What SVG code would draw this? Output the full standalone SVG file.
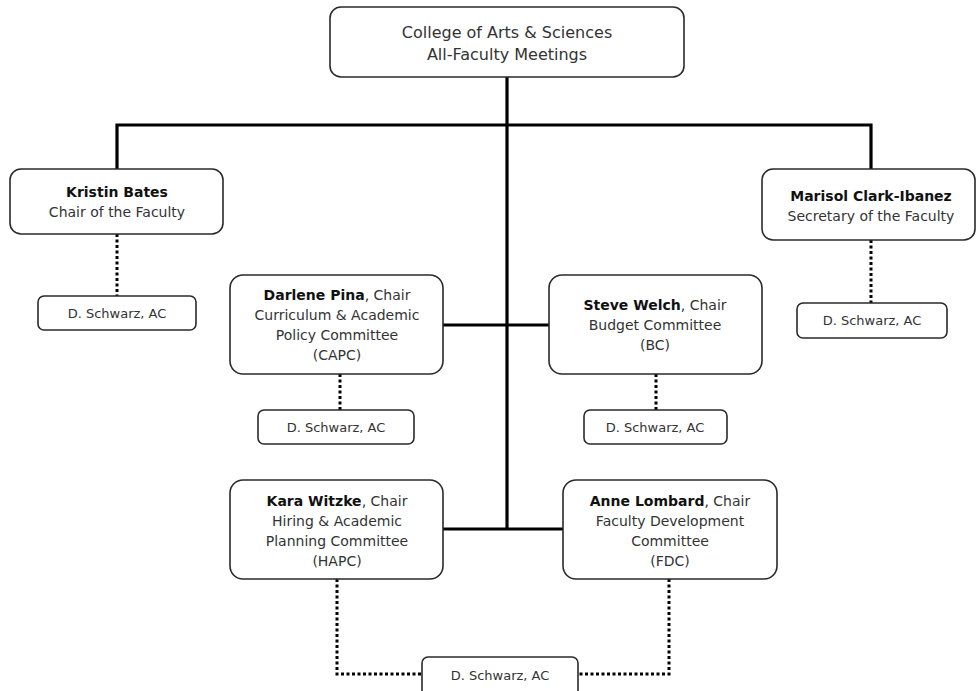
<svg xmlns="http://www.w3.org/2000/svg" width="976" height="691" viewBox="0 0 976 691">
<style>
.box{fill:#fff;stroke:#2a2a2a;stroke-width:1.6}
.t{font-family:"DejaVu Sans","Verdana",sans-serif;font-size:14px;fill:#333;text-anchor:middle}
.tt{font-family:"DejaVu Sans","Verdana",sans-serif;font-size:16px;fill:#333;text-anchor:middle}
.s{font-family:"DejaVu Sans","Verdana",sans-serif;font-size:13px;fill:#333;text-anchor:middle}
.b{font-weight:bold;fill:#111}
.solid{fill:none;stroke:#000;stroke-width:3.2}
.dot{fill:none;stroke:#000;stroke-width:3;stroke-dasharray:3 2.5}
</style>
<rect width="976" height="691" fill="#fff"/>
<g id="connectors">
<path class="solid" d="M507,77 V529"/>
<path class="solid" d="M117,169 V125 H871 V169"/>
<path class="solid" d="M443,325 H549"/>
<path class="solid" d="M443,529 H563"/>
<path class="dot" d="M117,234 V296"/>
<path class="dot" d="M871,240 V303"/>
<path class="dot" d="M340,374 V410"/>
<path class="dot" d="M656,374 V410"/>
<path class="dot" d="M337,579 V674 H422"/>
<path class="dot" d="M669,579 V674 H578"/>
</g>
<g id="college">
<rect class="box" x="330" y="7" width="354" height="70" rx="11"/>
<text class="tt" x="507" y="38">College of Arts &amp; Sciences</text>
<text class="tt" x="507" y="60">All-Faculty Meetings</text>
</g>
<g id="bates">
<rect class="box" x="10" y="169" width="213" height="65" rx="11"/>
<text class="t b" x="117" y="197">Kristin Bates</text>
<text class="t" x="117" y="217">Chair of the Faculty</text>
</g>
<g id="bates-ac">
<rect class="box" x="38" y="296" width="158" height="34" rx="6"/>
<text class="s" x="117" y="318">D. Schwarz, AC</text>
</g>
<g id="clark">
<rect class="box" x="762" y="169" width="213" height="71" rx="11"/>
<text class="t b" x="871" y="201">Marisol Clark-Ibanez</text>
<text class="t" x="871" y="221">Secretary of the Faculty</text>
</g>
<g id="clark-ac">
<rect class="box" x="797" y="303" width="150" height="35" rx="6"/>
<text class="s" x="872" y="325">D. Schwarz, AC</text>
</g>
<g id="capc">
<rect class="box" x="230" y="275" width="213" height="99" rx="13"/>
<text class="t" x="337" y="300"><tspan class="b">Darlene Pina</tspan>, Chair</text>
<text class="t" x="337" y="320">Curriculum &amp; Academic</text>
<text class="t" x="337" y="340">Policy Committee</text>
<text class="t" x="337" y="360">(CAPC)</text>
</g>
<g id="capc-ac">
<rect class="box" x="258" y="410" width="156" height="34" rx="6"/>
<text class="s" x="336" y="432">D. Schwarz, AC</text>
</g>
<g id="bc">
<rect class="box" x="549" y="275" width="213" height="99" rx="13"/>
<text class="t" x="655" y="310"><tspan class="b">Steve Welch</tspan>, Chair</text>
<text class="t" x="655" y="330">Budget Committee</text>
<text class="t" x="655" y="350">(BC)</text>
</g>
<g id="bc-ac">
<rect class="box" x="584" y="410" width="143" height="34" rx="6"/>
<text class="s" x="655" y="432">D. Schwarz, AC</text>
</g>
<g id="hapc">
<rect class="box" x="230" y="480" width="213" height="99" rx="13"/>
<text class="t" x="337" y="506"><tspan class="b">Kara Witzke</tspan>, Chair</text>
<text class="t" x="337" y="526">Hiring &amp; Academic</text>
<text class="t" x="337" y="546">Planning Committee</text>
<text class="t" x="337" y="566">(HAPC)</text>
</g>
<g id="fdc">
<rect class="box" x="563" y="480" width="214" height="99" rx="13"/>
<text class="t" x="670" y="506"><tspan class="b">Anne Lombard</tspan>, Chair</text>
<text class="t" x="670" y="526">Faculty Development</text>
<text class="t" x="670" y="546">Committee</text>
<text class="t" x="670" y="566">(FDC)</text>
</g>
<g id="shared-ac">
<rect class="box" x="422" y="657" width="156" height="40" rx="6"/>
<text class="s" x="500" y="680">D. Schwarz, AC</text>
</g>
</svg>
